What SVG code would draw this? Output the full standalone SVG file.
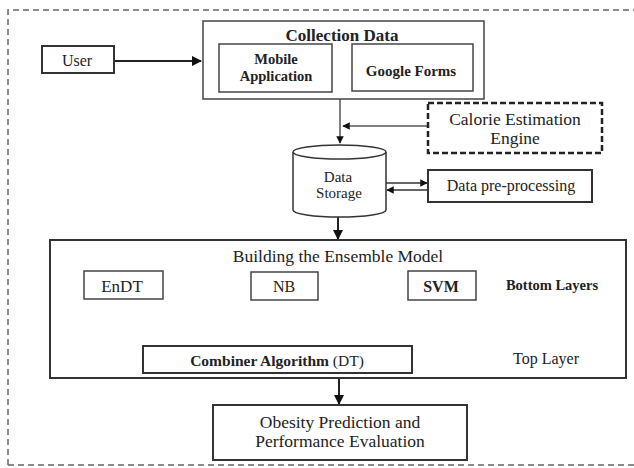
<svg xmlns="http://www.w3.org/2000/svg" width="634" height="468" viewBox="0 0 634 468">
<defs>
<style>
text{font-family:"Liberation Serif","Times New Roman",serif;fill:#222;text-anchor:middle}
.box{fill:#fff;stroke:#333;stroke-width:2}
.thin{fill:#fff;stroke:#444;stroke-width:1.5}
.ln{fill:none;stroke:#222;stroke-width:2}
.b{font-weight:bold}
</style>
<marker id="ah" viewBox="0 0 10 10" refX="9" refY="5" markerWidth="5" markerHeight="5" orient="auto"><path d="M0,0L10,5L0,10z" fill="#111"/></marker>
</defs>
<rect x="0" y="0" width="634" height="468" fill="#fff"/>
<path d="M8,465V10H634M8,465H634" fill="none" stroke="#666" stroke-width="1.5" stroke-dasharray="6,4"/>
<g id="connectors">
<path class="ln" d="M114,61H201" marker-end="url(#ah)"/>
<path d="M340,99V143" fill="none" stroke="#555" stroke-width="1.5" marker-end="url(#ah)"/>
<path d="M428,126H343" fill="none" stroke="#555" stroke-width="1.5" marker-end="url(#ah)"/>
<path d="M386,183H427" fill="none" stroke="#333" stroke-width="1.5" marker-end="url(#ah)"/>
<path d="M428,190H387" fill="none" stroke="#333" stroke-width="1.5" marker-end="url(#ah)"/>
<path class="ln" d="M338,217V239" marker-end="url(#ah)"/>
<path d="M116,299V311H436V300" fill="none" stroke="#555" stroke-width="1.5"/>
<path class="ln" d="M275,311V344" marker-end="url(#ah)"/>
<path class="ln" d="M339,373V404" marker-end="url(#ah)"/>
</g>
<g id="user"><rect class="box" x="42" y="46" width="72" height="27"/><text x="77" y="66" font-size="16">User</text></g>
<g id="collection"><rect class="thin" x="203" y="21" width="281" height="78"/><text class="b" x="342" y="41" font-size="17">Collection Data</text></g>
<g id="mobile"><rect class="thin" x="219" y="44" width="113" height="48"/><text class="b" x="276" y="64" font-size="14.5">Mobile</text><text class="b" x="276" y="81" font-size="14.5">Application</text></g>
<g id="google"><rect class="thin" x="352" y="44" width="121" height="47"/><text class="b" x="411" y="76" font-size="15">Google Forms</text></g>
<g id="calorie"><rect x="428" y="103" width="174" height="50" fill="#fff" stroke="#222" stroke-width="2.5" stroke-dasharray="6,3"/><text x="515" y="125" font-size="17.5">Calorie Estimation</text><text x="515" y="144" font-size="17.5">Engine</text></g>
<g id="storage"><path d="M293,152V210A46.5,7 0 0 0 386,210V152" fill="#fff" stroke="#333" stroke-width="1.5"/><ellipse cx="339.5" cy="152" rx="46.5" ry="7" fill="#fff" stroke="#333" stroke-width="1.5"/><text x="338" y="182" font-size="15">Data</text><text x="339" y="198" font-size="15">Storage</text></g>
<g id="preprocessing"><rect class="box" x="428" y="170" width="164" height="32"/><text x="511" y="191" font-size="16">Data pre-processing</text></g>
<g id="ensemble"><rect class="box" x="50" y="240" width="576" height="138" fill="none"/><text x="338" y="262" font-size="17.5">Building the Ensemble Model</text>
<text x="552" y="290" font-size="14.5" class="b">Bottom Layers</text><text x="546" y="364" font-size="16">Top Layer</text></g>
<g id="endt"><rect class="thin" x="84" y="271" width="79" height="28"/><text x="122" y="292" font-size="17">EnDT</text></g>
<g id="nb"><rect class="thin" x="251" y="272" width="67" height="28"/><text x="284" y="292" font-size="16">NB</text></g>
<g id="svm"><rect class="thin" x="408" y="271" width="68" height="29"/><text x="441" y="292" font-size="16" class="b">SVM</text></g>
<g id="combiner"><rect class="box" x="143" y="346" width="269" height="27"/><text x="277" y="366" font-size="15.5"><tspan class="b">Combiner Algorithm</tspan> (DT)</text></g>
<g id="obesity"><rect class="box" x="213" y="405" width="254" height="55"/><text x="340" y="428" font-size="17.5">Obesity Prediction and</text><text x="340" y="447" font-size="17.5">Performance Evaluation</text></g>
</svg>
